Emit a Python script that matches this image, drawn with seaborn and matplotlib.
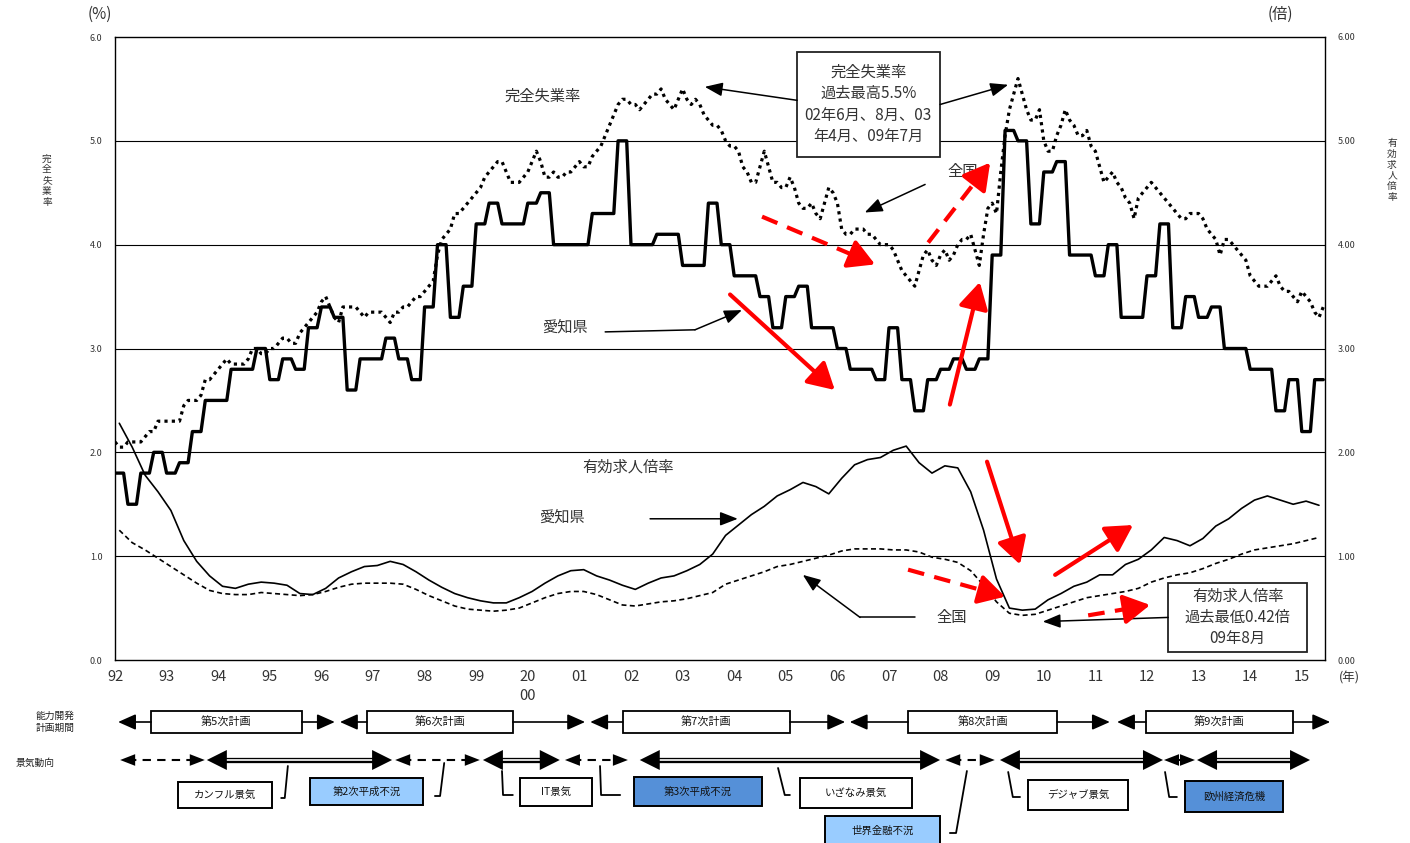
import numpy as np
import pandas as pd
import seaborn as sns
from matplotlib import pyplot as plt
from matplotlib.patches import Rectangle

sns.set_style("white")
plt.rcParams['font.family'] = ['Noto Sans CJK JP', 'DejaVu Sans']

START_YEAR = 1992

# 愛知県 完全失業率 (quarterly, 92Q1 - 15Q2)
aichi_unemp_q = [
    1.8, 1.5, 1.8, 2.0,  # 92
    1.8, 1.9, 2.2, 2.5,  # 93
    2.5, 2.8, 2.8, 3.0,  # 94
    2.7, 2.9, 2.8, 3.2,  # 95
    3.4, 3.3, 2.6, 2.9,  # 96
    2.9, 3.1, 2.9, 2.7,  # 97
    3.4, 4.0, 3.3, 3.6,  # 98
    4.2, 4.4, 4.2, 4.2,  # 99
    4.4, 4.5, 4.0, 4.0,  # 00
    4.0, 4.3, 4.3, 5.0,  # 01
    4.0, 4.0, 4.1, 4.1,  # 02
    3.8, 3.8, 4.4, 4.0,  # 03
    3.7, 3.7, 3.5, 3.2,  # 04
    3.5, 3.6, 3.2, 3.2,  # 05
    3.0, 2.8, 2.8, 2.7,  # 06
    3.2, 2.7, 2.4, 2.7,  # 07
    2.8, 2.9, 2.8, 2.9,  # 08
    3.9, 5.1, 5.0, 4.2,  # 09
    4.7, 4.8, 3.9, 3.9,  # 10
    3.7, 4.0, 3.3, 3.3,  # 11
    3.7, 4.2, 3.2, 3.5,  # 12
    3.3, 3.4, 3.0, 3.0,  # 13
    2.8, 2.8, 2.4, 2.7,  # 14
    2.2, 2.7,            # 15
]

# 全国 完全失業率 (monthly, 92/1 - 15/6)
national_unemp = [
    2.1, 2.05, 2.05, 2.1, 2.1, 2.1, 2.1, 2.15, 2.2, 2.2, 2.3, 2.3,        # 92
    2.3, 2.3, 2.3, 2.3, 2.45, 2.5, 2.5, 2.5, 2.55, 2.7, 2.7, 2.75,        # 93
    2.8, 2.85, 2.9, 2.85, 2.85, 2.85, 2.85, 2.9, 3.0, 3.0, 2.95, 2.95,    # 94
    3.0, 3.0, 3.05, 3.1, 3.1, 3.05, 3.05, 3.15, 3.2, 3.25, 3.3, 3.35,     # 95
    3.45, 3.5, 3.4, 3.3, 3.25, 3.4, 3.4, 3.4, 3.4, 3.35, 3.3, 3.35,       # 96
    3.35, 3.35, 3.35, 3.3, 3.25, 3.35, 3.35, 3.4, 3.4, 3.45, 3.5, 3.5,    # 97
    3.55, 3.6, 3.65, 3.9, 4.05, 4.1, 4.15, 4.3, 4.3, 4.35, 4.4, 4.45,     # 98
    4.5, 4.55, 4.65, 4.7, 4.75, 4.8, 4.8, 4.7, 4.6, 4.6, 4.6, 4.65,       # 99
    4.7, 4.8, 4.9, 4.8, 4.65, 4.65, 4.7, 4.65, 4.65, 4.7, 4.7, 4.75,      # 00
    4.8, 4.75, 4.75, 4.85, 4.9, 4.95, 5.05, 5.15, 5.25, 5.35, 5.4, 5.4,   # 01
    5.35, 5.35, 5.3, 5.35, 5.4, 5.45, 5.45, 5.5, 5.4, 5.35, 5.3, 5.4,     # 02
    5.5, 5.4, 5.35, 5.4, 5.35, 5.25, 5.2, 5.15, 5.15, 5.1, 5.0, 4.95,     # 03
    4.95, 4.9, 4.75, 4.7, 4.6, 4.6, 4.75, 4.9, 4.75, 4.6, 4.6, 4.55,      # 04
    4.55, 4.65, 4.55, 4.4, 4.35, 4.35, 4.4, 4.3, 4.25, 4.4, 4.55, 4.5,    # 05
    4.4, 4.15, 4.1, 4.1, 4.15, 4.15, 4.15, 4.1, 4.1, 4.05, 4.0, 4.0,      # 06
    4.0, 3.95, 3.85, 3.75, 3.7, 3.65, 3.6, 3.75, 3.9, 3.95, 3.85, 3.8,    # 07
    3.9, 3.95, 3.85, 3.9, 4.0, 4.05, 4.05, 4.1, 3.95, 3.8, 4.1, 4.35,     # 08
    4.4, 4.3, 4.7, 5.05, 5.3, 5.45, 5.6, 5.45, 5.3, 5.2, 5.2, 5.3,        # 09
    5.0, 4.9, 4.9, 5.05, 5.15, 5.3, 5.2, 5.15, 5.05, 5.05, 5.1, 4.95,     # 10
    4.9, 4.75, 4.6, 4.65, 4.7, 4.6, 4.55, 4.45, 4.4, 4.25, 4.45, 4.5,     # 11
    4.55, 4.6, 4.55, 4.5, 4.45, 4.4, 4.35, 4.3, 4.25, 4.25, 4.3, 4.3,     # 12
    4.3, 4.25, 4.15, 4.1, 4.05, 3.9, 4.05, 4.05, 4.0, 3.95, 3.9, 3.85,    # 13
    3.7, 3.65, 3.6, 3.6, 3.6, 3.65, 3.7, 3.6, 3.55, 3.55, 3.5, 3.45,      # 14
    3.55, 3.5, 3.45, 3.35, 3.3, 3.4,                                      # 15
]

# 有効求人倍率 (quarterly, 92Q1 - 15Q2)
aichi_ratio_q = [
    2.28, 2.05, 1.78, 1.62, 1.44, 1.15, 0.95, 0.81, 0.71, 0.69, 0.73, 0.75,
    0.74, 0.72, 0.64, 0.63, 0.69, 0.79, 0.85, 0.90, 0.91, 0.95, 0.92, 0.85,
    0.77, 0.70, 0.64, 0.60, 0.57, 0.55, 0.55, 0.60, 0.66, 0.74, 0.81, 0.86,
    0.87, 0.81, 0.77, 0.72, 0.68, 0.74, 0.79, 0.81, 0.86, 0.92, 1.02, 1.20,
    1.30, 1.40, 1.48, 1.58, 1.64, 1.71, 1.67, 1.60, 1.75, 1.88, 1.93, 1.95,
    2.02, 2.06, 1.90, 1.80, 1.87, 1.85, 1.62, 1.25, 0.78, 0.50, 0.48, 0.49,
    0.58, 0.64, 0.71, 0.75, 0.82, 0.82, 0.92, 0.97, 1.06, 1.18, 1.15, 1.10,
    1.17, 1.29, 1.36, 1.46, 1.54, 1.58, 1.54, 1.50, 1.53, 1.49,
]
national_ratio_q = [
    1.25, 1.13, 1.06, 0.98, 0.90, 0.82, 0.74, 0.67, 0.64, 0.63, 0.63, 0.65,
    0.64, 0.63, 0.62, 0.63, 0.66, 0.70, 0.73, 0.74, 0.74, 0.74, 0.73, 0.68,
    0.62, 0.57, 0.52, 0.49, 0.48, 0.47, 0.48, 0.50, 0.55, 0.60, 0.64, 0.66,
    0.66, 0.63, 0.58, 0.53, 0.52, 0.54, 0.56, 0.57, 0.59, 0.62, 0.65, 0.73,
    0.77, 0.81, 0.85, 0.90, 0.92, 0.95, 0.98, 1.01, 1.05, 1.07, 1.07, 1.07,
    1.06, 1.06, 1.04, 0.99, 0.97, 0.94, 0.86, 0.72, 0.56, 0.45, 0.43, 0.44,
    0.48, 0.52, 0.56, 0.60, 0.62, 0.64, 0.66, 0.69, 0.75, 0.79, 0.82, 0.84,
    0.88, 0.93, 0.97, 1.02, 1.06, 1.08, 1.10, 1.12, 1.15, 1.18,
]

year_ticks = list(range(1992, 2016))
year_labels = ['92', '93', '94', '95', '96', '97', '98', '99', '20\n00', '01',
               '02', '03', '04', '05', '06', '07', '08', '09', '10', '11',
               '12', '13', '14', '15']

# 能力開発計画期間: name, arrow span, box span (years)
plan_names = ['第5次計画', '第6次計画', '第7次計画', '第8次計画', '第9次計画']
plan_spans = [(1992.06, 1996.26), (1996.36, 2001.11), (2001.21, 2006.15),
              (2006.24, 2011.28), (2011.42, 2015.55)]
plan_boxes = [(1992.70, 1995.62), (1996.88, 1999.71), (2001.84, 2005.08),
              (2007.37, 2010.26), (2011.98, 2014.83)]

# 景気動向: span and kind (up = double line, down = dashed)
phase_spans = [(1992.10, 1993.74), (1993.78, 1997.37), (1997.43, 1999.07),
               (1999.13, 2000.62), (2000.72, 2001.94), (2002.17, 2007.99),
               (2008.09, 2009.05), (2009.15, 2012.31), (2012.33, 2012.93),
               (2012.97, 2015.16)]
phase_kinds = ['down', 'up', 'down', 'up', 'down', 'up', 'down', 'up', 'down', 'up']

event_names = ['カンフル景気', '第2次平成不況', 'IT景気', '第3次平成不況',
               'いざなみ景気', '世界金融不況', 'デジャブ景気', '欧州経済危機']
event_boxes = [(1993.22, 1995.04, 782, 808), (1995.78, 1997.97, 778, 805),
               (1999.85, 2001.24, 778, 806), (2002.06, 2004.54, 777, 806),
               (2005.28, 2007.45, 778, 808), (2005.76, 2007.99, 816, 845),
               (2009.69, 2011.63, 780, 810), (2012.74, 2014.64, 781, 812)]
event_colors = ['white', '#99ccff', 'white', '#5590d8',
                'white', '#99ccff', 'white', '#5590d8']
event_links = [
    [(1995.22, 798), (1995.29, 798), (1995.35, 766)],
    [(1998.20, 796), (1998.30, 796), (1998.38, 763)],
    [(1999.50, 771), (1999.52, 795), (1999.71, 795)],
    [(2001.40, 766), (2001.42, 795), (2001.79, 795)],
    [(2004.85, 768), (2004.98, 795), (2005.08, 795)],
    [(2008.18, 833), (2008.30, 833), (2008.51, 771)],
    [(2009.31, 772), (2009.40, 797), (2009.54, 797)],
    [(2012.35, 772), (2012.43, 797), (2012.58, 797)],
]

W, H = 1410, 843
months = START_YEAR + np.arange(len(national_unemp)) / 12
quarters = START_YEAR + (3 * np.arange(len(aichi_ratio_q)) + 1) / 12
monthly = pd.DataFrame({'x': months, 'national': national_unemp,
                        'aichi': np.repeat(aichi_unemp_q, 3)})
quarterly = pd.DataFrame({'x': quarters, 'aichi': aichi_ratio_q,
                          'national': national_ratio_q})

fig = plt.figure(figsize=(W / 100, H / 100), dpi=100)
ax = fig.add_axes([115 / W, 183 / H, 1210 / W, 623 / H])
xlim = (START_YEAR, 2015.45)

for y in range(1, 6):
    ax.axhline(y, color='black', lw=0.8, zorder=1)

sns.lineplot(data=monthly, x='x', y='national', ax=ax, color='black', lw=2.3,
             linestyle=(0, (1, 1.3)), errorbar=None, zorder=3)
sns.lineplot(data=monthly, x='x', y='aichi', ax=ax, color='black', lw=2.4,
             errorbar=None, zorder=4)
sns.lineplot(data=quarterly, x='x', y='aichi', ax=ax, color='black', lw=1.2,
             errorbar=None, zorder=3)
sns.lineplot(data=quarterly, x='x', y='national', ax=ax, color='black', lw=1.2,
             linestyle=(0, (3, 2)), errorbar=None, zorder=3)

ax.set_xlim(*xlim)
ax.set_ylim(0, 6)
ax.set_xlabel('')
ax.set_ylabel('')
ax.set_xticks(year_ticks)
ax.set_xticklabels(year_labels, fontsize=10.5, color='#333333', linespacing=1.5,
                   va='top')
ax.tick_params(axis='x', direction='in', length=4, width=0.8, pad=7)
ax.set_yticks(range(0, 7))
ax.set_yticklabels([f'{v:.1f}' for v in range(0, 7)], fontsize=6.5, color='#333333')
ax.tick_params(axis='y', length=0, pad=9)
for s in ax.spines.values():
    s.set_color('black')
    s.set_linewidth(1.0)

ax2 = ax.twinx()
ax2.set_ylim(0, 6)
ax2.set_yticks(range(0, 7))
ax2.set_yticklabels([f'{v:.2f}' for v in range(0, 7)], fontsize=6.5, color='#333333')
ax2.tick_params(axis='y', length=0, pad=9)
for s in ax2.spines.values():
    s.set_visible(False)

# axis titles
fig.text(100 / W, 1 - 14 / H, '(%)', fontsize=11, ha='center', va='center', color='#333333')
fig.text(1280 / W, 1 - 14 / H, '(倍)', fontsize=11, ha='center', va='center', color='#333333')
fig.text(47 / W, 1 - 180 / H, '\n'.join('完全失業率'), fontsize=7, ha='center',
         va='center', linespacing=1.1, color='#333333')
fig.text(1392 / W, 1 - 170 / H, '\n'.join('有効求人倍率'), fontsize=7, ha='center',
         va='center', linespacing=1.1, color='#333333')
ax.text(2015.72, -0.17, '(年)', fontsize=9, ha='left', va='center',
        color='#333333', clip_on=False)

# chart labels
txt = dict(fontsize=11, ha='center', va='center', color='#333333')
ax.text(2000.29, 5.43, '完全失業率', **txt)
ax.text(2008.43, 4.70, '全国', **txt)
ax.text(2000.72, 3.21, '愛知県', **txt)
ax.text(2001.94, 1.86, '有効求人倍率', **txt)
ax.text(2000.66, 1.38, '愛知県', **txt)
ax.text(2008.22, 0.41, '全国', **txt)

ax.add_patch(Rectangle((2005.22, 4.84), 2.77, 1.02, facecolor='white',
                       edgecolor='#222222', lw=1.3, zorder=6))
ax.text(2006.60, 5.35, '完全失業率\n過去最高5.5%\n02年6月、8月、03\n年4月、09年7月',
        fontsize=11, ha='center', va='center', linespacing=1.35,
        color='#333333', zorder=7)
ax.add_patch(Rectangle((2012.41, 0.08), 2.70, 0.66, facecolor='white',
                       edgecolor='#222222', lw=1.3, zorder=6))
ax.text(2013.76, 0.41, '有効求人倍率\n過去最低0.42倍\n09年8月', fontsize=11,
        ha='center', va='center', linespacing=1.3, color='#333333', zorder=7)

black_arrow = dict(arrowstyle='-|>,head_length=0.9,head_width=0.35', color='black',
                   lw=1.1, shrinkA=0, shrinkB=0, mutation_scale=12)
for start, end in [((2005.22, 5.39), (2003.43, 5.52)),
                   ((2007.99, 5.35), (2009.31, 5.54)),
                   ((2007.70, 4.58), (2006.53, 4.31)),
                   ((2003.24, 3.18), (2004.15, 3.37)),
                   ((2002.37, 1.36), (2004.07, 1.36)),
                   ((2006.44, 0.41), (2005.33, 0.82)),
                   ((2012.41, 0.41), (2009.98, 0.37))]:
    ax.annotate('', xy=end, xytext=start, arrowprops=black_arrow, zorder=6)
ax.plot([2001.50, 2003.24], [3.16, 3.18], color='black', lw=1.1)
ax.plot([2007.50, 2006.44], [0.41, 0.41], color='black', lw=1.1)

# red trend arrows
red_head = dict(arrowstyle='-|>,head_length=0.8,head_width=0.45', color='#ff0000',
                lw=3, shrinkA=0, shrinkB=0, mutation_scale=20)
red_solid = [((2003.92, 3.52), (2005.95, 2.60)), ((2008.18, 2.46), (2008.76, 3.64)),
             ((2008.90, 1.91), (2009.54, 0.92)), ((2010.22, 0.82), (2011.73, 1.30))]
red_dashed = [((2004.54, 4.27), (2006.73, 3.81)), ((2007.76, 4.02), (2008.96, 4.79)),
              ((2007.37, 0.87), (2009.25, 0.61)), ((2010.86, 0.43), (2012.06, 0.53))]
for start, end in red_solid:
    ax.annotate('', xy=end, xytext=start, zorder=8, arrowprops=red_head)
for start, end in red_dashed:
    mid = (start[0] + 0.8 * (end[0] - start[0]), start[1] + 0.8 * (end[1] - start[1]))
    ax.plot([start[0], mid[0]], [start[1], mid[1]], color='#ff0000', lw=3,
            linestyle=(0, (4, 2.5)), solid_capstyle='butt', zorder=8)
    ax.annotate('', xy=end, xytext=mid, zorder=8, arrowprops=red_head)

# timeline below the chart
tl = fig.add_axes([115 / W, 0, 1210 / W, 153 / H])
tl.set_xlim(*xlim)
tl.set_ylim(H, 690)
tl.axis('off')

fig.text(55 / W, 1 - 722 / H, '能力開発\n計画期間', fontsize=7, ha='center',
         va='center', linespacing=1.2, color='#222222')
fig.text(35 / W, 1 - 763 / H, '景気動向', fontsize=7, ha='center', va='center',
         color='#222222')

plan_y = 722
head = dict(arrowstyle='-|>,head_length=0.9,head_width=0.4', color='black', lw=1.2,
            shrinkA=0, shrinkB=0, mutation_scale=12)
for name, (s, e), (b0, b1) in zip(plan_names, plan_spans, plan_boxes):
    tl.add_patch(Rectangle((b0, plan_y - 11), b1 - b0, 22, facecolor='white',
                           edgecolor='black', lw=1.3, clip_on=False, zorder=3))
    tl.text((b0 + b1) / 2, plan_y, name, fontsize=8, ha='center', va='center',
            color='#111111', zorder=4)
    for a, b in [(b0, s), (b1, e)]:
        tl.annotate('', xy=(b, plan_y), xytext=(a, plan_y), arrowprops=head,
                    annotation_clip=False)

phase_y = 760
for (s, e), kind in zip(phase_spans, phase_kinds):
    if kind == 'up':
        tl.plot([s + 0.2, e - 0.2], [phase_y, phase_y], color='black', lw=3.8,
                solid_capstyle='butt', clip_on=False)
        tl.plot([s + 0.25, e - 0.25], [phase_y, phase_y], color='white', lw=1.2,
                solid_capstyle='butt', clip_on=False)
        style = '<|-|>,head_length=1.2,head_width=0.6'
    else:
        tl.plot([s + 0.15, e - 0.15], [phase_y, phase_y], color='black', lw=1.5,
                linestyle=(0, (4, 3)), clip_on=False)
        style = '<|-|>,head_length=0.9,head_width=0.35'
    tl.annotate('', xy=(e, phase_y), xytext=(s, phase_y), annotation_clip=False,
                arrowprops=dict(arrowstyle=style, color='black', lw=0, shrinkA=0,
                                shrinkB=0, mutation_scale=12))

for name, (x0, x1, y0, y1), fc, link in zip(event_names, event_boxes,
                                            event_colors, event_links):
    tl.add_patch(Rectangle((x0, y0), x1 - x0, y1 - y0, facecolor=fc,
                           edgecolor='black', lw=1.4, clip_on=False, zorder=3))
    tl.text((x0 + x1) / 2, (y0 + y1) / 2, name, fontsize=7.5, ha='center',
            va='center', color='#111111', zorder=4)
    lx, ly = zip(*link)
    tl.plot(lx, ly, color='black', lw=1.3, clip_on=False)

fig.savefig('out.png', dpi=100)
